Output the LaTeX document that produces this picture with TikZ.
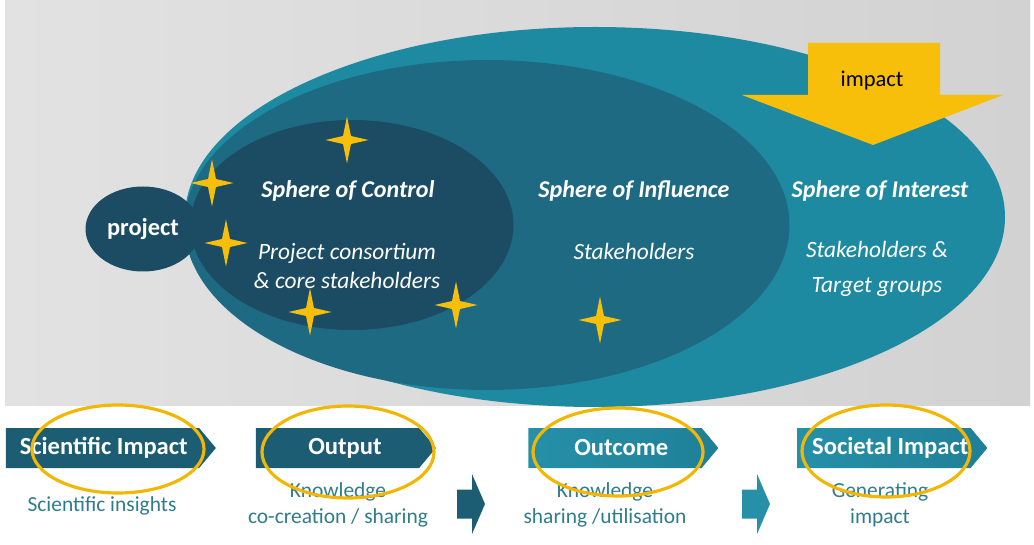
\documentclass[tikz,border=0pt]{standalone}
\usepackage{fontspec}
\setmainfont{Carlito}
\usetikzlibrary{shapes.geometric,shapes.symbols}

\definecolor{bgl}{HTML}{E2E2E2}
\definecolor{bgr}{HTML}{D2D2D2}
\definecolor{interest}{HTML}{1D8AA2}
\definecolor{influence}{HTML}{1F6A83}
\definecolor{control}{HTML}{1B4C64}
\definecolor{gold}{HTML}{F7BE0A}
\definecolor{ring}{HTML}{F2B705}
\definecolor{darkchev}{HTML}{1D5D74}
\definecolor{lightchev}{HTML}{2590A8}
\definecolor{lightchevr}{HTML}{1F8098}
\definecolor{desc}{HTML}{2E7C8C}

\begin{document}
\begin{tikzpicture}
        \tikzstyle{sphere}=[ellipse, inner sep=0pt, draw=none]
        \tikzstyle{head}=[text=white, font=\fontsize{13.7}{16}\selectfont\bfseries\itshape]
        \tikzstyle{body}=[text=white, font=\fontsize{13.3}{17}\selectfont\itshape, align=center]
        \tikzstyle{chev}=[signal, signal to=east, signal pointer angle=100, minimum height=0.8cm, inner sep=0pt, text=white, font=\fontsize{14}{16}\selectfont\bfseries]
        \tikzstyle{desc}=[text=desc, font=\fontsize{12.2}{15}\selectfont, align=center]
        \tikzstyle{ring}=[draw=ring, line width=1.8pt]

        \useasboundingbox (0,0) rectangle (20.68,10.88);
        \shade[left color=bgl, right color=bgr] (0.1,2.78) rectangle (20.6,10.88);

        % spheres
        \node[sphere, fill=interest,  minimum width=16.4cm, minimum height=7.6cm] (interest)  at (11.9,6.54) {};
        \node[sphere, fill=influence, minimum width=12.1cm, minimum height=6.6cm] (influence) at (9.74,6.38) {};
        \node[sphere, fill=control,   minimum width=6.46cm, minimum height=4.2cm] (control)   at (7.04,6.38) {};
        \node[sphere, fill=control,   minimum width=2.3cm,  minimum height=1.7cm, text=white, font=\fontsize{13.9}{16}\selectfont\bfseries] (project) at (2.86,6.3) {project};

        % impact arrow
        \fill[gold] (16.16,10.02) -- (18.8,10.02) -- (18.8,8.98) -- (20.06,8.98) -- (17.46,7.98) -- (14.84,8.98) -- (16.16,8.98) -- cycle;
        \node[font=\fontsize{12.8}{15}\selectfont, text=black] (impact) at (17.44,9.26) {impact};

        % stars
        \foreach \sx/\sy in {6.94/8.08, 4.24/7.22, 4.52/6.02, 6.2/4.64, 9.12/4.78, 12.0/4.48}
            \fill[gold, shift={(\sx,\sy)}] (0,0.47) -- (0.08,0.08) -- (0.43,0) -- (0.08,-0.08) -- (0,-0.47) -- (-0.08,-0.08) -- (-0.43,0) -- (-0.08,0.08) -- cycle;

        \node[head] (ctrl)    at (6.96,7.06)  {Sphere of Control};
        \node[body] (ctrltxt) at (6.94,5.56)  {Project consortium\\\& core stakeholders};
        \node[head] (infl)    at (12.68,7.06) {Sphere of Influence};
        \node[body] (infltxt) at (12.68,5.86) {Stakeholders};
        \node[head] (intr)    at (17.6,7.06)  {Sphere of Interest};
        \node[body, font=\fontsize{13.3}{20}\selectfont\itshape] (intrtxt) at (17.54,5.51) {Stakeholders \&\\Target groups};

        % bottom row
        \node[chev, fill=darkchev,  minimum width=4.2cm] (sci)  at (2.05,1.92)  {\hspace{0.05cm}Scientific Impact};
        \node[chev, fill=darkchev,  minimum width=3.6cm] (out)  at (6.75,1.92)  {\hspace{0.3cm}Output};
        \node[chev, left color=lightchev, right color=lightchevr, minimum width=3.8cm] (outc) at (12.3,1.92) {\hspace{0.25cm}Outcome};
        \node[chev, left color=lightchev, right color=lightchevr, minimum width=3.8cm] (soc)  at (17.68,1.92) {\hspace{0.25cm}Societal Impact};

        \node[desc] (scitxt)  at (2.04,0.76) {Scientific insights};
        \node[desc] (outtxt)  at (6.76,0.78) {Knowledge\\co-creation / sharing};
        \node[desc] (outctxt) at (12.1,0.78) {Knowledge\\sharing /utilisation};
        \node[desc] (soctxt)  at (17.6,0.78) {Generating\\impact};

        \coordinate (next1) at (9.44,0.8);
        \coordinate (next2) at (15.14,0.8);
        \fill[darkchev, shift={(next1)}] (-0.3,-0.29) -- (-0.3,0.29) -- (0,0.29) -- (0,0.6) -- (0.26,0) -- (0,-0.6) -- (0,-0.29) -- cycle;
        \fill[lightchev, shift={(next2)}] (-0.3,-0.29) -- (-0.3,0.29) -- (0,0.29) -- (0,0.6) -- (0.26,0) -- (0,-0.6) -- (0,-0.29) -- cycle;

        \draw[ring] (2.36,1.9)   ellipse (1.72 and 0.88);
        \draw[ring] (6.96,1.84)  ellipse (1.72 and 0.92);
        \draw[ring] (12.36,1.84) ellipse (1.7 and 0.88);
        \draw[ring] (17.72,1.86) ellipse (1.68 and 0.92);
\end{tikzpicture}
\end{document}
